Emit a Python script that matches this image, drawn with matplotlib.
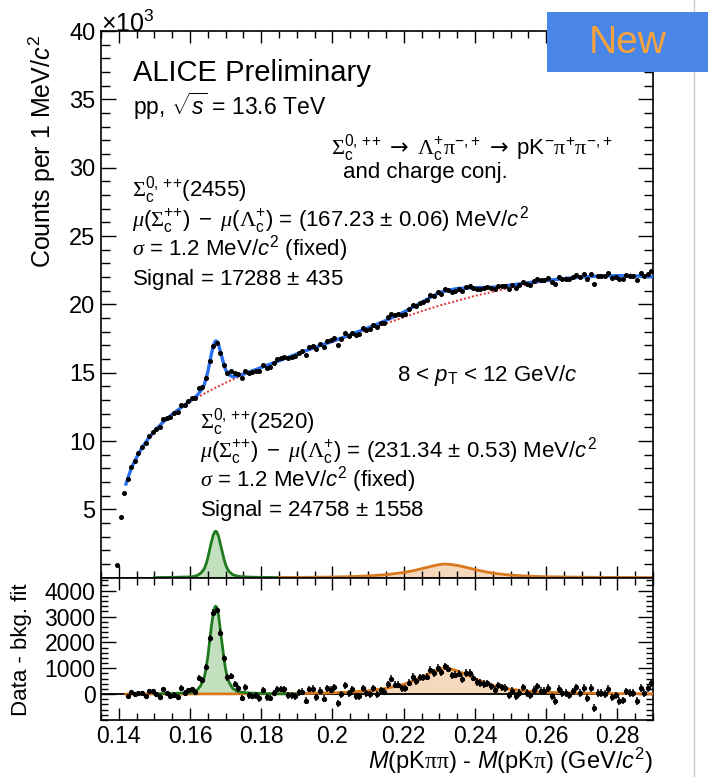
#!/usr/bin/env python3
"""
Sigma_c -> Lambda_c pi invariant-mass-difference spectrum (ALICE Preliminary style)
Top panel: counts with total fit, background and signal shapes
Bottom panel: data minus background fit
"""

import numpy as np
import matplotlib
matplotlib.use('Agg')
import matplotlib.pyplot as plt
from matplotlib.ticker import MultipleLocator, FixedLocator
from matplotlib.patches import Rectangle
from matplotlib.lines import Line2D

plt.rcParams.update({
    'font.family': ['Liberation Sans', 'DejaVu Sans'],
    'mathtext.fontset': 'custom',
    'mathtext.rm': 'Liberation Sans',
    'mathtext.it': 'Liberation Sans:italic',
    'mathtext.cal': 'Liberation Serif',
    'mathtext.bf': 'Liberation Serif:italic',
    'mathtext.sf': 'DejaVu Sans',
})

# ---- data ----
# 1 MeV bins, centres 0.1395 ... 0.2895 GeV/c^2
mass_bins = np.round(np.arange(0.1395, 0.2896, 0.001), 4)

# counts per bin, in units of 10^3
counts_k = [
    0.93, 4.42, 6.17,
    7.19, 8.07, 8.54, 9.09, 9.53, 9.82, 10.35, 10.68, 10.87, 11.05,
    11.58, 11.66, 11.77, 12.02, 12.13, 12.66, 12.65, 12.92, 13.13, 13.17,
    13.86, 13.94, 14.59, 15.84, 16.97, 17.20, 16.46, 15.58, 14.97, 15.14,
    14.95, 14.89, 14.64, 15.15, 14.95, 15.04, 15.15, 15.13, 15.56, 15.37,
    15.45, 15.74, 15.99, 16.09, 16.18, 16.05,
    16.15, 16.21, 16.47, 16.58, 16.32, 16.86, 16.97, 16.72, 17.07, 16.85,
    17.35, 17.38, 17.56, 17.03, 17.48, 17.91, 17.70, 17.94, 17.75, 17.84,
    18.25, 18.15, 18.19, 18.52, 18.37, 18.61, 18.65, 19.04, 19.33, 19.19,
    19.28, 19.24, 19.33, 19.63, 19.94, 19.86, 20.11, 20.20, 20.30, 20.65,
    20.60, 20.88, 20.79, 21.09, 21.07, 20.88, 20.98, 21.09, 20.95, 21.25,
    21.32, 21.22,
    21.12, 21.14, 21.16, 21.24, 21.19, 21.12, 21.35, 21.33, 21.36, 21.14,
    21.38, 21.22, 21.39, 21.66, 21.50, 21.45, 21.71, 21.88, 21.75, 21.79,
    21.93, 21.64, 21.50, 21.98, 21.86, 21.89, 21.82, 22.00, 22.18, 21.99,
    22.20, 21.84, 22.23, 21.48, 22.08, 22.09, 22.06, 22.26, 21.95, 22.03,
    21.82, 21.84, 22.17, 22.11, 22.10, 21.79, 22.27, 22.07, 22.25, 22.41,
]

# data - bkg. fit, bins from 0.1425 onwards (fit range)
first_fit_bin = 3
residual = [
    -65, 65, -13, 39, 26, -77, 103, 103, -13, -103,
    180, 26, -77, -26, -116, 232, 39, 142, 180, 65,
    607, 543, 1046, 2157, 3150, 3250, 2377, 1382, 646, 698,
    388, 220, -142, 258, -52, -65, -52, -168, 155, -129,
    -155, 39, 194, 194, 180, -52,
    -52, -90, 65, 90, -258, 194, 207, -129, 129, -181,
    232, 168, 258, -361, 0, 336, 39, 194, -90, -90,
    232, 39, -13, 232, -13, 142, 90, 388, 594, 362,
    362, 232, 232, 439, 659, 491, 646, 646, 672, 943,
    814, 1008, 840, 1072, 982, 724, 749, 788, 581, 814,
    814, 640,
    465, 426, 388, 413, 297, 168, 336, 258, 232, -52,
    129, -77, 39, 258, 52, -52, 168, 297, 129, 129,
    232, -90, -258, 194, 39, 39, -52, 103, 258, 39,
    232, -155, 232, -542, 39, 39, 0, 194, -129, -52,
    -258, -245, 103, 39, 39, -258, 232, 39, 232, 413,
]

# background fit (red dotted), 10^3 counts
bkg_x = [0.142, 0.1425, 0.1435, 0.1445, 0.1455, 0.1465, 0.148, 0.150, 0.1525, 0.155,
         0.1575, 0.160, 0.1625, 0.165, 0.1675, 0.170, 0.1725, 0.175, 0.180, 0.185,
         0.190, 0.195, 0.200, 0.205, 0.210, 0.215, 0.220, 0.225, 0.230, 0.235,
         0.240, 0.245, 0.250, 0.255, 0.260, 0.265, 0.270, 0.275, 0.280, 0.285, 0.290]
bkg_k = [6.85, 7.25, 8.0, 8.55, 9.05, 9.5, 10.08, 10.73, 11.4, 11.95,
         12.43, 12.87, 13.25, 13.61, 13.95, 14.26, 14.56, 14.84, 15.35, 15.85,
         16.35, 16.8, 17.25, 17.7, 18.15, 18.6, 19.05, 19.5, 19.91, 20.26,
         20.62, 20.92, 21.22, 21.47, 21.68, 21.83, 21.96, 22.04, 22.08, 22.06, 22.0]

# total fit (blue), 10^3 counts
fit_x = [0.142, 0.1425, 0.1435, 0.1445, 0.1455, 0.1465, 0.148, 0.150, 0.1525, 0.155,
         0.1575, 0.159, 0.160, 0.161, 0.162, 0.163, 0.164, 0.165, 0.1655, 0.166,
         0.1665, 0.167, 0.1672, 0.1675, 0.168, 0.1685, 0.169, 0.1695, 0.170, 0.171,
         0.172, 0.173, 0.174, 0.175, 0.177, 0.180, 0.185, 0.190, 0.195, 0.200,
         0.205, 0.210, 0.215, 0.220, 0.225, 0.230, 0.235, 0.240, 0.245, 0.250,
         0.255, 0.260, 0.265, 0.270, 0.275, 0.280, 0.285, 0.290]
fit_k = [6.85, 7.25, 8.0, 8.55, 9.05, 9.5, 10.08, 10.73, 11.4, 11.96,
         12.45, 12.73, 12.93, 13.11, 13.34, 13.66, 14.12, 15.06, 15.73, 16.37,
         16.92, 17.27, 17.32, 17.3, 17.07, 16.58, 16.09, 15.6, 15.21, 14.83,
         14.7, 14.74, 14.81, 14.9, 15.09, 15.38, 15.87, 16.37, 16.84, 17.3,
         17.78, 18.28, 18.82, 19.43, 20.14, 20.87, 21.16, 21.22, 21.25, 21.41,
         21.58, 21.75, 21.88, 22.0, 22.07, 22.1, 22.08, 22.01]

# Sigma_c(2455) signal (green), counts
sig1_x = [0.150, 0.155, 0.158, 0.160, 0.161, 0.162, 0.163, 0.164, 0.1645, 0.165,
          0.1655, 0.166, 0.1665, 0.167, 0.1672, 0.1675, 0.168, 0.1685, 0.169, 0.1695,
          0.170, 0.1705, 0.171, 0.172, 0.173, 0.174, 0.176, 0.179, 0.183, 0.190]
sig1 = [10, 25, 45, 60, 90, 160, 330, 650, 1000, 1450,
        2050, 2620, 3100, 3380, 3400, 3350, 3050, 2500, 1950, 1400,
        950, 650, 450, 220, 130, 85, 50, 30, 15, 5]

# Sigma_c(2520) signal (orange), counts
sig2_x = [0.142, 0.150, 0.160, 0.170, 0.180, 0.185, 0.190, 0.195, 0.200, 0.205,
          0.210, 0.215, 0.220, 0.223, 0.226, 0.228, 0.230, 0.2313, 0.233, 0.235,
          0.237, 0.240, 0.243, 0.246, 0.250, 0.255, 0.260, 0.270, 0.280, 0.290]
sig2 = [4, 5, 7, 9, 12, 15, 20, 35, 50, 80,
        130, 220, 380, 530, 720, 850, 960, 1000, 980, 900,
        790, 600, 430, 300, 190, 110, 70, 35, 20, 12]

# ---- styling ----
W, H = 708, 777
C_BLUE = '#2a6ff0'
C_RED = '#e2332e'
C_GREEN = '#1f7a1f'
C_GREEN_FILL = '#c2dfbe'
C_ORANGE = '#d9781c'
C_ORANGE_FILL = '#f6d9bd'


def px_box(left, top, right, bottom):
    return [left / W, 1 - bottom / H, (right - left) / W, (bottom - top) / H]


def ftext(x, y, s, **kw):
    return fig.text(x / W, 1 - y / H, s, **kw)


fig = plt.figure(figsize=(W / 100, H / 100), dpi=100)
ax = fig.add_axes(px_box(101, 31, 653, 577.7))
axr = fig.add_axes(px_box(101, 577.7, 653, 720))

mass_bins = np.asarray(mass_bins)
counts = np.asarray(counts_k) * 1000.0
sig1_x, sig1 = np.asarray(sig1_x), np.asarray(sig1, dtype=float)
sig2_x, sig2 = np.asarray(sig2_x), np.asarray(sig2, dtype=float)

# ---- top panel ----
ax.fill_between(sig1_x, 0, sig1 / 1000, color=C_GREEN_FILL, lw=0, zorder=1)
ax.plot(sig1_x, sig1 / 1000, color=C_GREEN, lw=2, zorder=2)
top_orange = sig2_x >= 0.185
ax.fill_between(sig2_x[top_orange], 0, sig2[top_orange] / 1000, color=C_ORANGE_FILL, lw=0, zorder=1)
ax.plot(sig2_x[top_orange], sig2[top_orange] / 1000, color=C_ORANGE, lw=2, zorder=2)

ax.plot(bkg_x, bkg_k, color=C_RED, lw=1.4, ls=(0, (1, 1.1)), zorder=3)
ax.plot(fit_x, fit_k, color=C_BLUE, lw=2.4, zorder=4)
ax.errorbar(mass_bins, counts_k, yerr=np.sqrt(counts) / 1000, fmt='o', ms=2.6,
            color='black', elinewidth=0.8, capsize=0, zorder=5)

ax.set_xlim(0.135, 0.29)
ax.set_ylim(0, 40)
ax.xaxis.set_major_locator(MultipleLocator(0.02))
ax.xaxis.set_minor_locator(MultipleLocator(0.005))
ax.yaxis.set_major_locator(FixedLocator([5, 10, 15, 20, 25, 30, 35, 40]))
ax.yaxis.set_minor_locator(MultipleLocator(1))
ax.tick_params(which='both', direction='in', top=True, right=True, width=1)
ax.tick_params(axis='y', which='major', length=11, labelsize=17, pad=4)
ax.tick_params(axis='y', which='minor', length=6.5)
ax.tick_params(axis='x', which='major', length=8.5, labelbottom=False)
ax.tick_params(axis='x', which='minor', length=5)
for sp in ax.spines.values():
    sp.set_linewidth(1.2)

# ---- bottom panel ----
axr.fill_between(sig1_x, 0, sig1, color=C_GREEN_FILL, lw=0, zorder=1)
axr.fill_between(sig2_x, 0, sig2, color=C_ORANGE_FILL, lw=0, zorder=1)
axr.axhline(0, color='black', lw=1.3, zorder=2)
axr.plot(sig2_x, sig2, color=C_ORANGE, lw=2, zorder=3)
axr.plot(sig1_x, sig1, color=C_GREEN, lw=2, zorder=3)

res_x = mass_bins[first_fit_bin:]
res_err = np.sqrt(counts[first_fit_bin:])
axr.errorbar(res_x, residual, yerr=res_err, xerr=0.0004, fmt='o', ms=2.8,
             color='black', elinewidth=1.1, capsize=0, zorder=5)

axr.set_xlim(0.135, 0.29)
axr.set_ylim(-1000, 4500)
axr.xaxis.set_major_locator(MultipleLocator(0.02))
axr.xaxis.set_minor_locator(MultipleLocator(0.005))
axr.xaxis.set_major_formatter(plt.FuncFormatter(lambda v, p: f'{v:g}'))
axr.yaxis.set_major_locator(FixedLocator([0, 1000, 2000, 3000, 4000]))
axr.yaxis.set_minor_locator(MultipleLocator(200))
axr.tick_params(which='both', direction='in', top=True, right=True, width=1)
axr.tick_params(axis='y', which='major', length=11, labelsize=16.5, pad=4)
axr.tick_params(axis='y', which='minor', length=5)
axr.tick_params(axis='x', which='major', length=8.5, labelsize=16.5, pad=3.5)
axr.tick_params(axis='x', which='minor', length=5)
for sp in axr.spines.values():
    sp.set_linewidth(1.2)

# ---- axis titles ----
ftext(101, 32, r'$\times$10$^{3}$', fontsize=18, ha='left', va='baseline')
ftext(42, 35, r'Counts per 1 MeV/$c^{2}$', fontsize=18, rotation=90,
      ha='center', va='top')
ftext(22, 650, 'Data - bkg. fit', fontsize=16, rotation=90, ha='center', va='center')
ftext(653, 769, r'$M$(pK$\mathcal{\pi\pi}$) - $M$(pK$\mathcal{\pi}$) (GeV/$c^{2}$)',
      fontsize=17, ha='right', va='baseline')

# ---- annotations ----
SC = r'\mathcal{\Sigma}_{\rm c}'
LC = r'\mathcal{\Lambda}_{\rm c}'
PI = r'\mathcal{\pi}'
ARROW = r'\;\mathsf{\rightarrow}\;'

ftext(133, 81, 'ALICE Preliminary', fontsize=21, va='baseline')
ftext(133, 115, r'pp, $\sqrt{s}$ = 13.6 TeV', fontsize=16.5, va='baseline')
ftext(331, 154,
      '$' + SC + r'^{0,\,{+}{+}}' + ARROW + LC + r'^{+}' + PI + r'^{{-},{+}}' + ARROW
      + r'{\rm pK}^{-}' + PI + r'^{+}' + PI + r'^{{-},{+}}$',
      fontsize=16, va='baseline')
ftext(343, 178, 'and charge conj.', fontsize=16, va='baseline')

mu_diff = (r'$\mathbf{\mu}(' + SC + r'^{{+}{+}})\;-\;\mathbf{\mu}(' + LC + r'^{+})$')

block1 = [
    '$' + SC + r'^{0,\,{+}{+}}$(2455)',
    mu_diff + r' = (167.23 $\pm$ 0.06) MeV/$c^{2}$',
    r'$\mathbf{\sigma}$ = 1.2 MeV/$c^{2}$ (fixed)',
    r'Signal = 17288 $\pm$ 435',
]
for i, line in enumerate(block1):
    ftext(132, 197 + 29.3 * i, line, fontsize=16, va='baseline')

block2 = [
    '$' + SC + r'^{0,\,{+}{+}}$(2520)',
    mu_diff + r' = (231.34 $\pm$ 0.53) MeV/$c^{2}$',
    r'$\mathbf{\sigma}$ = 1.2 MeV/$c^{2}$ (fixed)',
    r'Signal = 24758 $\pm$ 1558',
]
for i, line in enumerate(block2):
    ftext(200, 428 + 29.3 * i, line, fontsize=16, va='baseline')

ftext(397, 381, r'8 < $p_{\rm T}$ < 12 GeV/$c$', fontsize=16, va='baseline')

# ---- "New" badge and slide edge ----
fig.lines.append(Line2D([694 / W, 694 / W], [0, 1], transform=fig.transFigure,
                        color='#cfcfcf', lw=1, zorder=20))
fig.patches.append(Rectangle((547 / W, 1 - 72 / H), (W - 547) / W, 60 / H,
                             transform=fig.transFigure, facecolor='#4a86e8',
                             edgecolor='none', zorder=30))
ftext(628, 43, 'New', fontsize=28, color='#f6a33e', ha='center', va='center', zorder=31)

plt.savefig('out.png', dpi=100)
